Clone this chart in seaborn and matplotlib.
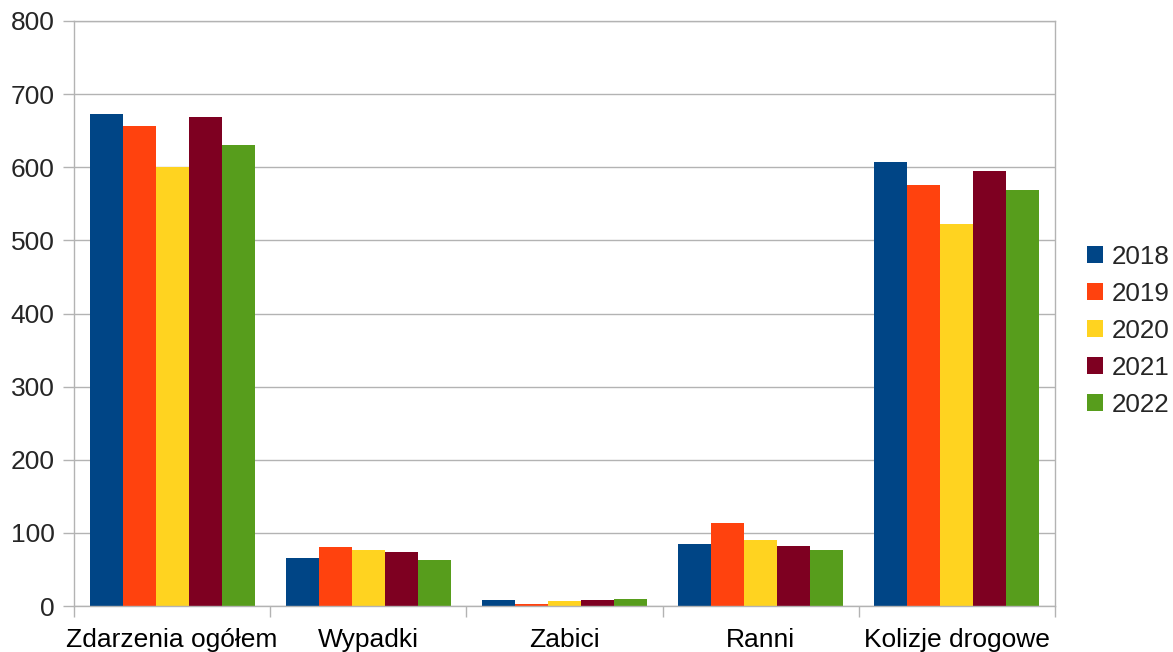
import matplotlib
matplotlib.use("Agg")
import matplotlib.pyplot as plt
import seaborn as sns
import pandas as pd
from matplotlib.patches import Patch
from matplotlib.ticker import FixedLocator

categories = ["Zdarzenia ogółem", "Wypadki", "Zabici", "Ranni", "Kolizje drogowe"]
years = ["2018", "2019", "2020", "2021", "2022"]
v2018 = [673, 66, 8, 85, 607]
v2019 = [656, 81, 3, 113, 576]
v2020 = [600, 77, 7, 90, 522]
v2021 = [669, 74, 8, 82, 595]
v2022 = [630, 63, 10, 77, 569]
colors = ["#004586", "#ff420e", "#ffd320", "#7e0021", "#579d1c"]
yticks = [0, 100, 200, 300, 400, 500, 600, 700, 800]

series = [v2018, v2019, v2020, v2021, v2022]
rows = []
for y, vals in zip(years, series):
    for c, v in zip(categories, vals):
        rows.append({"cat": c, "year": y, "value": v})
df = pd.DataFrame(rows)

sns.set_style("white")
plt.rcParams["font.family"] = ["Liberation Sans", "DejaVu Sans"]

fig = plt.figure(figsize=(11.73, 6.52), dpi=100)
ax = fig.add_axes([74/1173, 46/652, 981/1173, 585/652])

sns.barplot(data=df, x="cat", y="value", hue="year", hue_order=years,
            order=categories, palette=colors, width=0.84, saturation=1,
            edgecolor="none", linewidth=0, ax=ax, legend=False, errorbar=None)

gray = "#b3b3b3"
ax.set_xlim(-0.5, 4.5)
ax.set_ylim(0, 800)
ax.set_yticks(yticks)
ax.set_yticklabels([str(t) for t in yticks])
ax.yaxis.grid(True, color=gray, linewidth=1)
ax.set_axisbelow(True)
ax.set_xlabel("")
ax.set_ylabel("")

ax.xaxis.set_minor_locator(FixedLocator([-0.5, 0.5, 1.5, 2.5, 3.5, 4.5]))
ax.tick_params(axis="x", which="major", length=0, labelsize=19, pad=16, colors="black")
ax.tick_params(axis="x", which="minor", length=8, width=1, color=gray, direction="out", bottom=True)
ax.tick_params(axis="y", which="major", length=8, width=1, color=gray, labelsize=19, pad=6, left=True)

for s in ax.spines.values():
    s.set_color(gray)
    s.set_linewidth(1)
    s.set_visible(True)

handles = [Patch(facecolor=c, edgecolor="none") for c in colors]
leg = fig.legend(handles, years, loc="center left", bbox_to_anchor=(1087/1173, 1 - 331/652),
                 frameon=False, fontsize=18.7, handlelength=0.62, handleheight=0.62,
                 handletextpad=0.35, labelspacing=0.5, borderpad=0, borderaxespad=0)

fig.savefig("out.png", dpi=100)
